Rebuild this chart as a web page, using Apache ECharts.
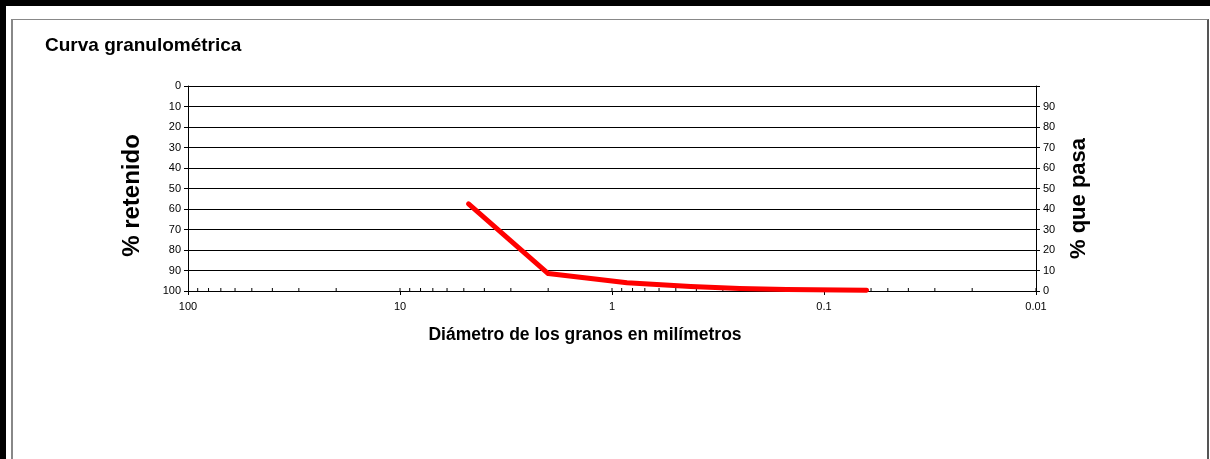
<!DOCTYPE html>
<html>
<head>
<meta charset="utf-8">
<script src="https://cdn.jsdelivr.net/npm/echarts@6/dist/echarts.min.js"></script>
<style>
  body { margin: 0; width: 1210px; height: 459px; overflow: hidden; background: #fff; position: relative; font-family: 'Liberation Sans', Arial, sans-serif; }
  #topbar { position: absolute; left: 0; top: 0; width: 1210px; height: 6px; background: #000; }
  #leftbar { position: absolute; left: 0; top: 0; width: 6px; height: 459px; background: #000; }
  #frame { position: absolute; left: 11px; top: 19px; width: 1194px; height: 460px; border-left: 2px solid #888; border-top: 1px solid #888; border-right: 2px solid #555; }
  #main { position: absolute; left: 0; top: 0; width: 1210px; height: 459px; }
</style>
</head>
<body>
<div id="topbar"></div>
<div id="leftbar"></div>
<div id="frame"></div>
<div id="main"></div>
<script type="text/javascript">
// grain sizes (mm) and cumulative % retained
var sizes = [4.75, 2.0, 0.85, 0.425, 0.25, 0.15, 0.063];
var retained = [57.5, 91.5, 96.0, 97.8, 98.8, 99.3, 99.6];

var xTickLabels = ['100', '10', '1', '0.1', '0.01'];
var decades = [10, 1, 0.1, 0.01];
var minorSteps = [1, 2, 3, 4, 5, 6, 7, 8, 9];

// small inside ticks along the bottom of the log axis
var minorTicks = [];
decades.forEach(function (d) {
    minorSteps.forEach(function (m) { minorTicks.push([d * m, 100]); });
});

var chart = echarts.init(document.getElementById('main'));
var lblFont = { fontFamily: 'Liberation Sans', fontSize: 11, color: '#000' };

chart.setOption({
    animation: false,
    title: {
        text: 'Curva granulométrica',
        left: 40, top: 31,
        textStyle: { fontFamily: 'Liberation Sans', fontSize: 19, fontWeight: 'bold', color: '#000' }
    },
    grid: { left: 188, right: 174, top: 86, bottom: 168 },
    xAxis: {
        type: 'log', logBase: 10, min: 0.01, max: 100, inverse: true,
        name: 'Diámetro de los granos en milímetros',
        nameLocation: 'middle', nameGap: 35,
        nameTextStyle: { fontFamily: 'Liberation Sans', fontSize: 17.5, fontWeight: 'bold', color: '#000', padding: [0, 54, 0, 0] },
        axisLine: { onZero: false, lineStyle: { color: '#000', width: 1 } },
        axisTick: { length: 4, lineStyle: { color: '#000' } },
        axisLabel: Object.assign({ margin: 10, formatter: function (v) {
            var i = Math.round(2 - Math.log10(v));
            return xTickLabels[i];
        } }, lblFont),
        splitLine: { show: false }
    },
    yAxis: [{
        type: 'value', min: 0, max: 100, interval: 10, inverse: true,
        name: '% retenido', nameLocation: 'middle', nameGap: 44, nameRotate: 90,
        nameTextStyle: { fontFamily: 'Liberation Sans', fontSize: 24, fontWeight: 'bold', color: '#000', padding: [0, 14, 0, 0] },
        axisLine: { show: true, lineStyle: { color: '#000' } },
        axisTick: { show: true, length: 4, lineStyle: { color: '#000' } },
        axisLabel: Object.assign({ margin: 7 }, lblFont),
        splitLine: { show: true, lineStyle: { color: '#000', width: 1 } }
    }, {
        type: 'value', min: 0, max: 100, interval: 10, position: 'right',
        name: '% que pasa', nameLocation: 'middle', nameGap: 32, nameRotate: 90,
        nameTextStyle: { fontFamily: 'Liberation Sans', fontSize: 22, fontWeight: 'bold', color: '#000', padding: [0, 20, 0, 0] },
        axisLine: { show: true, lineStyle: { color: '#000' } },
        axisTick: { show: true, length: 4, lineStyle: { color: '#000' } },
        axisLabel: Object.assign({ margin: 7, formatter: function (v) { return v === 100 ? '' : v; } }, lblFont),
        splitLine: { show: false }
    }],
    series: [{
        type: 'custom',
        yAxisIndex: 0,
        silent: true,
        data: minorTicks,
        renderItem: function (params, api) {
            var p = api.coord([api.value(0), api.value(1)]);
            return {
                type: 'line',
                shape: { x1: p[0], y1: p[1], x2: p[0], y2: p[1] - 3 },
                style: { stroke: '#000', lineWidth: 1 }
            };
        }
    }, {
        type: 'line',
        yAxisIndex: 0,
        data: sizes.map(function (s, i) { return [s, retained[i]]; }),
        showSymbol: false,
        lineStyle: { color: '#ff0000', width: 5, cap: 'round', join: 'round' },
        z: 5
    }]
});
</script>
</body>
</html>
